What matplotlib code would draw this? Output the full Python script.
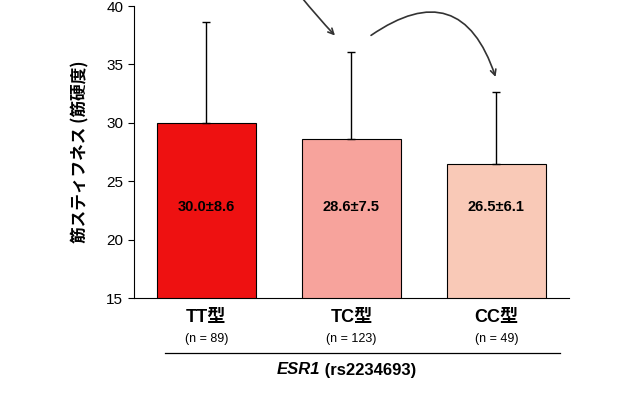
import matplotlib.pyplot as plt
from matplotlib.lines import Line2D

plt.rcParams['font.family'] = ['Liberation Sans', 'Noto Sans CJK JP']

groups = ["TT型", "TC型", "CC型"]
counts = ["(n = 89)", "(n = 123)", "(n = 49)"]
means = [30.0, 28.6, 26.5]
sds = [8.6, 7.5, 6.1]
colors = ["#ee1111", "#f7a39c", "#f9c9b7"]

fig = plt.figure(figsize=(6.4, 4.0), dpi=100)
ax = fig.add_axes([0.209, 0.255, 0.68, 0.73])
x = range(len(groups))
ax.bar(x, means, width=0.68, color=colors, edgecolor="black", linewidth=0.8,
       yerr=[[0] * 3, sds], capsize=3, error_kw=dict(elinewidth=1, capthick=1))
for i, (m, s) in enumerate(zip(means, sds)):
    ax.text(i, 22.8, f"{m:.1f}±{s:.1f}", ha="center", va="center",
            fontsize=10.5, fontweight="bold")

ax.set_ylim(15, 40)
ax.set_xlim(-0.5, 2.5)
ax.set_yticks([15, 20, 25, 30, 35, 40])
ax.tick_params(axis="y", labelsize=11, length=4)
ax.tick_params(axis="x", length=0)
ax.set_xticks(list(x))
ax.set_xticklabels([])
for s in ["top", "right"]:
    ax.spines[s].set_visible(False)
ax.set_ylabel("筋スティフネス (筋硬度)", fontsize=12, fontweight="bold", labelpad=12,
              family=['Noto Sans CJK JP'])

for i, (g, c) in enumerate(zip(groups, counts)):
    ax.text(i, 13.3, g, ha="center", va="center", fontsize=13, fontweight="bold",
            clip_on=False)
    ax.text(i, 11.5, c, ha="center", va="center", fontsize=9, clip_on=False)

fig.add_artist(Line2D([0.258, 0.875], [0.118, 0.118], color="black", lw=0.9))
fig.text(0.5, 0.075, "ESR1", ha="right", va="center", fontsize=12,
         fontweight="bold", style="italic")
fig.text(0.5, 0.075, " (rs2234693)", ha="left", va="center", fontsize=12,
         fontweight="bold")

ax.annotate("", xy=(0.90, 37.3), xytext=(0.64, 41.0), annotation_clip=False,
            arrowprops=dict(arrowstyle="->", color="#333333", lw=1.2,
                            connectionstyle="arc3,rad=0.02"))
ax.annotate("", xy=(2.0, 33.7), xytext=(1.12, 37.35), annotation_clip=False,
            arrowprops=dict(arrowstyle="->", color="#333333", lw=1.2,
                            connectionstyle="arc3,rad=-0.68"))

fig.savefig("out.png", dpi=100)
